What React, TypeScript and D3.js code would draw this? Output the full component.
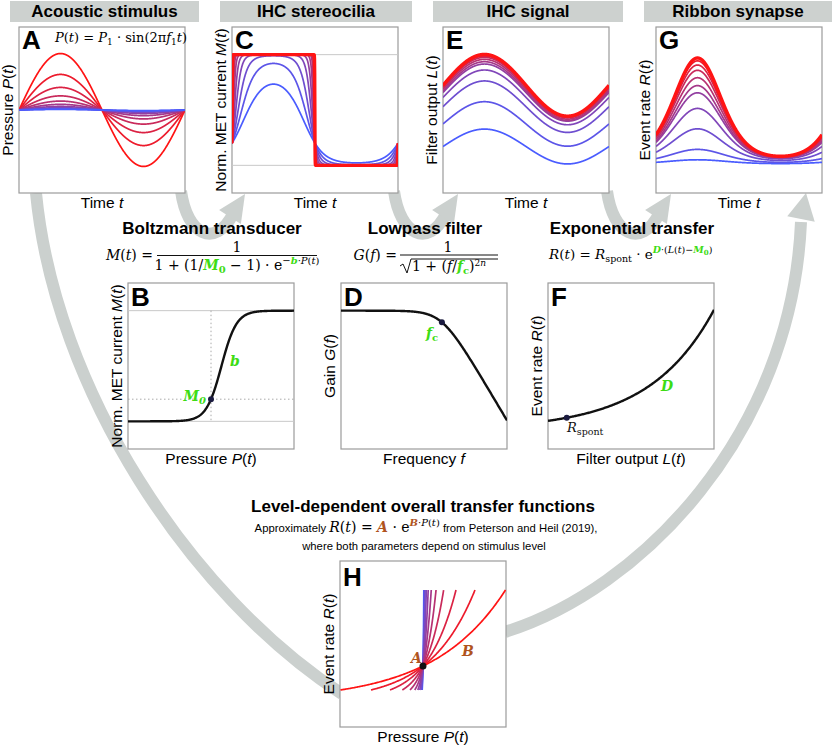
import * as d3 from 'd3';
import React from 'react';

// stimulus levels, quietest (blue) to loudest (red)
const levelsDb = [0, 4, 8, 12, 16, 20, 24, 28, 32, 36, 40];
// relative pressure amplitude P1 per level (panel A, half widths in H)
const pressureAmp = [0.01, 0.016, 0.025, 0.04, 0.063, 0.1, 0.158, 0.25, 0.4, 0.63, 1.0];
// filter output per level (panel E), as fraction of the box height
const ihcMean = [0.28, 0.416, 0.52, 0.576, 0.605, 0.614, 0.625, 0.635, 0.641, 0.646, 0.649];
const ihcDepth = [0.105, 0.134, 0.155, 0.165, 0.172, 0.177, 0.18, 0.182, 0.184, 0.185, 0.186];

const headerTitles = ['Acoustic stimulus', 'IHC stereocilia', 'IHC signal', 'Ribbon synapse'];
const stageTitles = ['Boltzmann transducer', 'Lowpass filter', 'Exponential transfer'];

// model constants
const M0 = 0.2;
const driveMax = 240; // b*P1 of loudest level (panel C)
const bSlope = 11; // b in panel B, P from -1 to 1
const nOrder = 1; // lowpass order (panel D)
const spontL = 0.113;
const spontR = 0.1025;
const expD = 2.57; // panel F
const synFloor = 0.17;
const synScale = 0.0022;
const synD = 6.8; // panel G
const overallSpan = 1.154; // panel H, B*P at the ends

const S = 166;
const FONT = "'Liberation Sans', Arial, sans-serif";
const SERIF = "'DejaVu Serif', serif";
const GREEN = '#3ddc14';
const BROWN = '#b0541e';
const BAND = '#cbd0ce';
const EDGE = '#9b9b9b';

type Part = { t: string; i?: boolean; b?: boolean; fill?: string; size?: number; dy?: number; font?: string };
const Parts = ({ parts }: { parts: Part[] }) => (
  <>
    {parts.map((p, k) => (
      <tspan
        key={k}
        fontStyle={p.i ? 'italic' : undefined}
        fontWeight={p.b ? 'bold' : undefined}
        fill={p.fill}
        fontSize={p.size}
        dy={p.dy}
        fontFamily={p.font}
      >
        {p.t}
      </tspan>
    ))}
  </>
);

const fn = (name: string, arg: string): Part[] => [{ t: name, i: true }, { t: '(' }, { t: arg, i: true }, { t: ')' }];
const lbl: Record<string, Part[]> = {
  time: [{ t: 'Time ' }, { t: 't', i: true }],
  pressure: [{ t: 'Pressure ' }, ...fn('P', 't')],
  met: [{ t: 'Norm. MET current ' }, ...fn('M', 't')],
  filt: [{ t: 'Filter output ' }, ...fn('L', 't')],
  rate: [{ t: 'Event rate ' }, ...fn('R', 't')],
  gain: [{ t: 'Gain ' }, ...fn('G', 'f')],
  freq: [{ t: 'Frequency ' }, { t: 'f', i: true }],
};

const panels = [
  { id: 'A', x: 19, y: 27, xl: lbl.time, yl: lbl.pressure, ly: 22 },
  { id: 'C', x: 232, y: 27, xl: lbl.time, yl: lbl.met, ly: 22 },
  { id: 'E', x: 443, y: 27, xl: lbl.time, yl: lbl.filt, ly: 22 },
  { id: 'G', x: 656, y: 27, xl: lbl.time, yl: lbl.rate, ly: 22 },
  { id: 'B', x: 128, y: 283, xl: lbl.pressure, yl: lbl.met, ly: 23 },
  { id: 'D', x: 341, y: 283, xl: lbl.freq, yl: lbl.gain, ly: 23 },
  { id: 'F', x: 548, y: 283, xl: lbl.filt, yl: lbl.rate, ly: 23 },
  { id: 'H', x: 340, y: 561, xl: lbl.pressure, yl: lbl.rate, ly: 25 },
];
const box = (id: string) => panels.find((p) => p.id === id)!;

const headerBars = [
  { x: 10, w: 189 },
  { x: 220, w: 192 },
  { x: 433, w: 190 },
  { x: 644, w: 188 },
];

function head(tip: [number, number], base: [number, number], half: number) {
  const dx = tip[0] - base[0];
  const dy = tip[1] - base[1];
  const len = Math.hypot(dx, dy);
  const px = -dy / len;
  const py = dx / len;
  return `M${tip[0]},${tip[1]}L${base[0] + px * half},${base[1] + py * half}L${base[0] - px * half},${base[1] - py * half}Z`;
}

export default function App() {
  const nL = levelsDb.length;
  const mix = d3.interpolateRgb('#4a5cff', '#ff1414');
  const color = (i: number) => mix(i / (nL - 1));
  const ts = d3.range(0, 1.00001, 0.001);
  const boltz = (z: number) => 1 / (1 + (1 / M0 - 1) * Math.exp(-z));
  const idx = d3.range(nL);

  // A
  const bA = box('A');
  const xA = d3.scaleLinear([0, 1], [bA.x, bA.x + S]);
  const yA = d3.scaleLinear([-1.47, 1.47], [bA.y + S, bA.y]);
  const aPath = (i: number) =>
    d3.line<number>().x((t) => xA(t)).y((t) => yA(pressureAmp[i] * Math.sin(2 * Math.PI * t)))(ts)!;

  // C
  const bC = box('C');
  const xC = d3.scaleLinear([0, 1], [bC.x, bC.x + S]);
  const yC = d3.scaleLinear([-0.25, 1.25], [bC.y + S, bC.y]);
  const cPath = (i: number) =>
    d3
      .line<number>()
      .x((t) => xC(t))
      .y((t) => yC(boltz(driveMax * pressureAmp[i] * Math.sin(2 * Math.PI * t))))(ts)!;

  // E
  const bE = box('E');
  const xE = d3.scaleLinear([0, 1], [bE.x, bE.x + S]);
  const yE = d3.scaleLinear([0, 1], [bE.y + S, bE.y]);
  const ihc = (i: number, t: number) => ihcMean[i] + ihcDepth[i] * Math.sin(2 * Math.PI * t);
  const ePath = (i: number) => d3.line<number>().x((t) => xE(t)).y((t) => yE(ihc(i, t)))(ts)!;

  // G
  const bG = box('G');
  const xG = d3.scaleLinear([0, 1], [bG.x, bG.x + S]);
  const yG = d3.scaleLinear([0, 1], [bG.y + S, bG.y]);
  const gPath = (i: number) =>
    d3
      .line<number>()
      .x((t) => xG(t))
      .y((t) => yG(synFloor + synScale * Math.exp(synD * ihc(i, t))))(ts)!;

  // B
  const bB = box('B');
  const xB = d3.scaleLinear([-1, 1], [bB.x, bB.x + S]);
  const yB = d3.scaleLinear([-0.25, 1.25], [bB.y + S, bB.y]);
  const ps = d3.range(-1, 1.00001, 0.005);
  const bPath = d3.line<number>().x((p) => xB(p)).y((p) => yB(boltz(bSlope * p)))(ps)!;

  // D
  const bD = box('D');
  const xD = d3.scaleLog([10 ** -2.2, 10 ** 1.42], [bD.x, bD.x + S]);
  const yD = d3.scaleLog([10 ** -1.79, 10 ** 0.358], [bD.y + S, bD.y]);
  const fs = d3.range(-2.2, 1.42001, 0.01).map((e) => 10 ** e);
  const gain = (f: number) => 1 / Math.sqrt(1 + f ** (2 * nOrder));
  const dPath = d3.line<number>().x((f) => xD(f)).y((f) => yD(gain(f)))(fs)!;

  // F
  const bF = box('F');
  const xF = d3.scaleLinear([0, 1], [bF.x, bF.x + S]);
  const yF = d3.scaleLinear([-0.158, 1.225], [bF.y + S, bF.y]);
  const ls = d3.range(0, 1.00001, 0.005);
  const rate = (l: number) => spontR * Math.exp(expD * (l - spontL));
  const fPath = d3.line<number>().x((l) => xF(l)).y((l) => yF(rate(l)))(ls)!;

  // H
  const bH = box('H');
  const xH = d3.scaleLinear([-1.006, 1.006], [bH.x, bH.x + S]);
  const yH = d3.scaleLinear([-0.743, 4], [bH.y + S, bH.y]);
  const us = d3.range(-1, 1.00001, 0.01);
  const hPath = (i: number) =>
    d3
      .line<number>()
      .x((u) => xH(u * pressureAmp[i]))
      .y((u) => yH(Math.exp(overallSpan * u)))(us)!;

  const thin = 1.7;
  const thick = 3.4;

  return (
    <svg
      width={837}
      height={749}
      style={{ position: 'absolute', left: 0, top: 0, background: '#fff' }}
      fontFamily={FONT}
    >
      <defs>
        {panels.map((p) => (
          <clipPath key={p.id} id={`clip${p.id}`}>
            <rect x={p.x} y={p.y} width={S} height={S} />
          </clipPath>
        ))}
      </defs>

      {/* gray flow arrows */}
      <g fill="none" stroke={BAND} strokeWidth={12}>
        <path d="M36,193 C55,390 190,595 342,694" />
        <path d="M505,632 C640,590 792,435 801,222" />
        {[0, 213, 426].map((o) => (
          <path key={o} d={`M${181 + o},191 C${187 + o},235 ${215 + o},249 ${233 + o},214`} />
        ))}
      </g>
      <g fill={BAND}>
        <path d={head([806, 193], [801, 219], 14)} />
        {[0, 213, 426].map((o) => (
          <path key={o} d={head([245 + o, 194], [230 + o, 217], 13)} />
        ))}
      </g>

      {/* header bars */}
      {headerBars.map((h, k) => (
        <g key={k}>
          <rect x={h.x} y={1} width={h.w} height={21} fill="#cdd1cf" />
          <text x={h.x + h.w / 2} y={17} textAnchor="middle" fontWeight="bold" fontSize={17}>
            {headerTitles[k]}
          </text>
        </g>
      ))}

      {/* stage titles */}
      {['B', 'D', 'F'].map((id, k) => (
        <text key={id} x={box(id).x + S / 2 + 1} y={234} textAnchor="middle" fontWeight="bold" fontSize={17}>
          {stageTitles[k]}
        </text>
      ))}
      <text x={423} y={512} textAnchor="middle" fontWeight="bold" fontSize={17}>
        Level-dependent overall transfer functions
      </text>
      <text x={426} y={532} textAnchor="middle" fontSize={11.3}>
        <Parts
          parts={[
            { t: 'Approximately ' },
            { t: 'R', i: true, font: SERIF, size: 14 },
            { t: '(', font: SERIF, size: 14 },
            { t: 't', i: true, font: SERIF, size: 14 },
            { t: ') = ', font: SERIF, size: 14 },
            { t: 'A', i: true, b: true, fill: BROWN, font: SERIF, size: 14 },
            { t: ' · e', font: SERIF, size: 14 },
            { t: 'B', i: true, b: true, fill: BROWN, font: SERIF, size: 10, dy: -6 },
            { t: '·', font: SERIF, size: 10 },
            { t: 'P', i: true, font: SERIF, size: 10 },
            { t: '(', font: SERIF, size: 10 },
            { t: 't', i: true, font: SERIF, size: 10 },
            { t: ')', font: SERIF, size: 10 },
            { t: ' from Peterson and Heil (2019),', dy: 6 },
          ]}
        />
      </text>
      <text x={424} y={550} textAnchor="middle" fontSize={11.3}>
        where both parameters depend on stimulus level
      </text>

      {/* boxes */}
      {panels.map((p) => (
        <rect key={p.id} x={p.x} y={p.y} width={S} height={S} fill="#fff" stroke={EDGE} strokeWidth={1.2} />
      ))}

      {/* A */}
      <g clipPath="url(#clipA)" fill="none" strokeWidth={thin}>
        {[...idx].reverse().map((i) => (
          <path key={i} d={aPath(i)} stroke={color(i)} />
        ))}
      </g>

      {/* C */}
      <g stroke="#c8c8c8" strokeWidth={1}>
        <line x1={bC.x} x2={bC.x + S} y1={yC(1)} y2={yC(1)} />
        <line x1={bC.x} x2={bC.x + S} y1={yC(0)} y2={yC(0)} />
      </g>
      <g clipPath="url(#clipC)" fill="none">
        {idx.map((i) => (
          <path key={i} d={cPath(i)} stroke={color(i)} strokeWidth={i === nL - 1 ? thick : thin} />
        ))}
      </g>

      {/* E */}
      <g clipPath="url(#clipE)" fill="none">
        {idx.map((i) => (
          <path key={i} d={ePath(i)} stroke={color(i)} strokeWidth={i === nL - 1 ? thick : thin} />
        ))}
      </g>

      {/* G */}
      <g clipPath="url(#clipG)" fill="none">
        {idx.map((i) => (
          <path key={i} d={gPath(i)} stroke={color(i)} strokeWidth={i === nL - 1 ? thick : thin} />
        ))}
      </g>

      {/* B */}
      <g stroke="#c8c8c8" strokeWidth={1}>
        <line x1={bB.x} x2={bB.x + S} y1={yB(1)} y2={yB(1)} />
        <line x1={bB.x} x2={bB.x + S} y1={yB(0)} y2={yB(0)} />
      </g>
      <g stroke="#aaa" strokeWidth={1} strokeDasharray="1.5,2.5">
        <line x1={bB.x} x2={bB.x + S} y1={yB(M0)} y2={yB(M0)} />
        <line x1={xB(0)} x2={xB(0)} y1={yB(1)} y2={yB(0)} />
      </g>
      <path d={bPath} fill="none" stroke="#111" strokeWidth={2.4} clipPath="url(#clipB)" />
      <circle cx={xB(0)} cy={yB(M0)} r={3} fill="#1b1b40" />
      <text x={206} y={401} textAnchor="end" fontFamily={SERIF} fontSize={14} fill={GREEN} fontWeight="bold" fontStyle="italic">
        M<tspan fontSize={10} dy={3}>0</tspan>
      </text>
      <text x={230} y={366} fontFamily={SERIF} fontSize={14} fill={GREEN} fontWeight="bold" fontStyle="italic">
        b
      </text>

      {/* D */}
      <path d={dPath} fill="none" stroke="#111" strokeWidth={2.4} clipPath="url(#clipD)" />
      <circle cx={xD(1)} cy={yD(gain(1))} r={3} fill="#1b1b40" />
      <text x={426} y={338} fontFamily={SERIF} fontSize={14} fill={GREEN} fontWeight="bold" fontStyle="italic">
        f<tspan fontSize={10} dy={3} fontStyle="normal">c</tspan>
      </text>

      {/* F */}
      <path d={fPath} fill="none" stroke="#111" strokeWidth={2.4} clipPath="url(#clipF)" />
      <circle cx={xF(spontL)} cy={yF(spontR)} r={3} fill="#1b1b40" />
      <text x={567} y={432} fontFamily={SERIF} fontSize={13} fill="#111">
        <tspan fontStyle="italic">R</tspan>
        <tspan fontSize={9.5} dy={3}>spont</tspan>
      </text>
      <text x={661} y={391} fontFamily={SERIF} fontSize={14} fill={GREEN} fontWeight="bold" fontStyle="italic">
        D
      </text>

      {/* H */}
      <g clipPath="url(#clipH)" fill="none" strokeWidth={thin}>
        {idx.map((i) => (
          <path key={i} d={hPath(i)} stroke={color(i)} />
        ))}
      </g>
      <circle cx={xH(0)} cy={yH(1)} r={3.5} fill="#111" />
      <text x={411} y={663} fontFamily={SERIF} fontSize={14} fill={BROWN} fontWeight="bold" fontStyle="italic">
        A
      </text>
      <text x={462} y={656} fontFamily={SERIF} fontSize={14} fill={BROWN} fontWeight="bold" fontStyle="italic">
        B
      </text>

      {/* panel letters and axis labels */}
      {panels.map((p) => (
        <g key={p.id}>
          <text x={p.x + 3} y={p.y + p.ly} fontWeight="bold" fontSize={26}>
            {p.id}
          </text>
          <text x={p.x + S / 2} y={p.y + S + 15} textAnchor="middle" fontSize={15.5}>
            <Parts parts={p.xl} />
          </text>
          <text transform={`translate(${p.x - 6},${p.y + S / 2}) rotate(-90)`} textAnchor="middle" fontSize={15.5}>
            <Parts parts={p.yl} />
          </text>
        </g>
      ))}

      {/* formulas */}
      <text x={55} y={42} fontFamily={SERIF} fontSize={13}>
        <Parts
          parts={[
            ...fn('P', 't'),
            { t: ' = ' },
            { t: 'P', i: true },
            { t: '1', size: 9, dy: 3 },
            { t: ' · sin(2π', dy: -3 },
            { t: 'f', i: true },
            { t: '1', size: 9, dy: 3 },
            { t: 't', i: true, dy: -3 },
            { t: ')' },
          ]}
        />
      </text>

      <g fontFamily={SERIF} fontSize={14}>
        <text x={153} y={260} textAnchor="end">
          <Parts parts={[...fn('M', 't'), { t: ' =' }]} />
        </text>
        <text x={237} y={252} textAnchor="middle">1</text>
        <line x1={157} x2={317} y1={255.5} y2={255.5} stroke="#111" strokeWidth={1} />
        <text x={237} y={270} textAnchor="middle">
          <Parts
            parts={[
              { t: '1 + (1/' },
              { t: 'M', i: true, b: true, fill: GREEN },
              { t: '0', b: true, fill: GREEN, size: 10, dy: 3 },
              { t: ' − 1) · e', dy: -3 },
              { t: '−', size: 10, dy: -6 },
              { t: 'b', i: true, b: true, fill: GREEN, size: 10 },
              { t: '·', size: 10 },
              { t: 'P', i: true, size: 10 },
              { t: '(', size: 10 },
              { t: 't', i: true, size: 10 },
              { t: ')', size: 10 },
            ]}
          />
        </text>

        <text x={397} y={260} textAnchor="end">
          <Parts parts={[...fn('G', 'f'), { t: ' =' }]} />
        </text>
        <text x={448} y={252} textAnchor="middle">1</text>
        <line x1={400} x2={498} y1={255} y2={255} stroke="#111" strokeWidth={1} />
        <path d="M400,266 L403,264 L407,273 L411,259 L498,259" fill="none" stroke="#111" strokeWidth={1} />
        <text x={412} y={271}>
          <Parts
            parts={[
              { t: '1 + (' },
              { t: 'f', i: true },
              { t: '/' },
              { t: 'f', i: true, b: true, fill: GREEN },
              { t: 'c', b: true, fill: GREEN, size: 10, dy: 3 },
              { t: ')', dy: -3 },
              { t: '2', size: 9, dy: -5 },
              { t: 'n', i: true, size: 9 },
            ]}
          />
        </text>

        <text x={549} y={259} fontSize={13.5}>
          <Parts
            parts={[
              ...fn('R', 't'),
              { t: ' = ' },
              { t: 'R', i: true },
              { t: 'spont', size: 9.5, dy: 3 },
              { t: ' · e', dy: -3 },
              { t: 'D', i: true, b: true, fill: GREEN, size: 9.5, dy: -6 },
              { t: '·(', size: 9.5 },
              { t: 'L', i: true, size: 9.5 },
              { t: '(', size: 9.5 },
              { t: 't', i: true, size: 9.5 },
              { t: ')−', size: 9.5 },
              { t: 'M', i: true, b: true, fill: GREEN, size: 9.5 },
              { t: '0', b: true, fill: GREEN, size: 7, dy: 2 },
              { t: ')', size: 9.5, dy: -2 },
            ]}
          />
        </text>
      </g>
    </svg>
  );
}
